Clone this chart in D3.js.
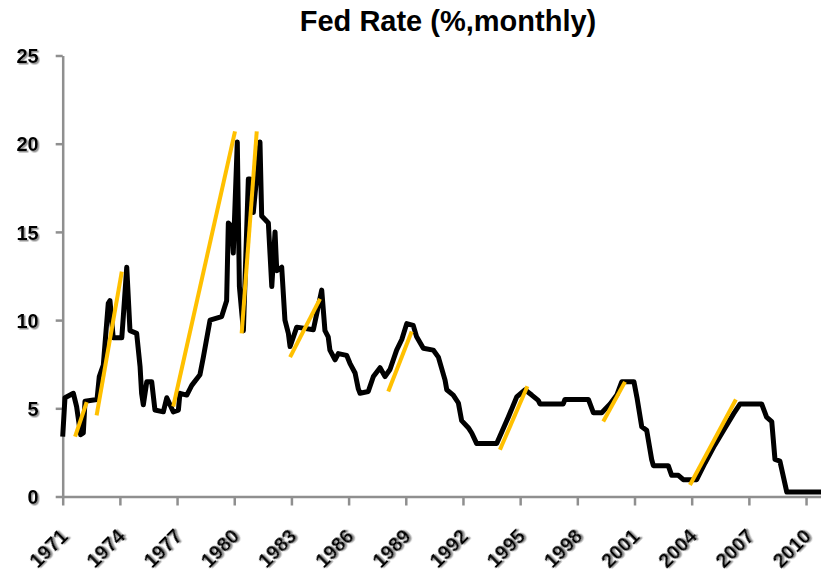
<!DOCTYPE html>
<html>
<head>
<meta charset="utf-8">
<script src="https://cdn.jsdelivr.net/npm/d3@7"></script>
<style>
  body { margin: 0; background: #fff; }
  svg { display: block; font-family: "Liberation Sans", Arial, sans-serif; }
  .axis path, .axis line { stroke: #8f8f8f; stroke-width: 2.5; }
  .axis text { font-size: 20px; font-weight: bold; fill: #000; }
</style>
</head>
<body>
<script>
// fed rate (decimal year, percent)
var years = [1971.00, 1971.12, 1971.56, 1971.73, 1971.94, 1972.08, 1972.17, 1972.80, 1972.92, 1973.13,
             1973.39, 1973.48, 1973.65, 1974.10, 1974.18, 1974.36, 1974.53, 1974.88, 1975.06, 1975.14,
             1975.23, 1975.41, 1975.67, 1975.84, 1976.28, 1976.46, 1976.63, 1976.80, 1977.07, 1977.15,
             1977.51, 1977.77, 1978.20, 1978.38, 1978.73, 1979.34, 1979.60, 1979.69, 1979.87, 1979.95,
             1980.16, 1980.27, 1980.48, 1980.74, 1980.83, 1981.00, 1981.35, 1981.44, 1981.79, 1981.97,
             1982.14, 1982.23, 1982.49, 1982.66, 1982.84, 1982.93, 1983.28, 1984.15, 1984.59, 1984.76,
             1984.93, 1985.02, 1985.29, 1985.46, 1985.90, 1986.07, 1986.34, 1986.51, 1986.60, 1987.03,
             1987.30, 1987.65, 1987.91, 1988.17, 1988.52, 1988.79, 1989.05, 1989.39, 1989.57, 1989.92,
             1990.44, 1990.71, 1991.06, 1991.15, 1991.49, 1991.76, 1991.93, 1992.28, 1992.46, 1992.72,
             1993.77, 1994.38, 1994.82, 1995.25, 1995.61, 1995.95, 1996.04, 1997.26, 1997.35, 1998.58,
             1998.84, 1999.28, 1999.72, 2000.07, 2000.33, 2000.97, 2001.13, 2001.38, 2001.64, 2001.90,
             2001.99, 2002.77, 2002.95, 2003.30, 2003.56, 2004.26, 2004.70, 2005.20, 2005.70, 2006.20,
             2006.54, 2007.67, 2007.93, 2008.20, 2008.37, 2008.63, 2008.99, 2010.80];
var rates = [3.4, 5.6, 5.85, 5.1, 3.5, 3.6, 5.4, 5.5, 6.8, 7.45,
             10.95, 11.1, 9.0, 9.0, 10.2, 13.0, 9.4, 9.25, 7.35, 5.85,
             5.2, 6.5, 6.5, 4.9, 4.8, 5.6, 5.2, 4.8, 4.9, 5.85,
             5.75, 6.3, 6.9, 7.9, 10.0, 10.2, 11.1, 15.5, 15.3, 13.8,
             20.1, 11.9, 9.4, 18.0, 18.0, 16.1, 20.1, 15.9, 15.5, 11.9,
             15.0, 12.8, 13.0, 10.0, 9.25, 8.5, 9.6, 9.45, 11.7, 9.4,
             9.05, 8.3, 7.75, 8.1, 8.0, 7.55, 7.0, 6.1, 5.85, 5.95,
             6.8, 7.3, 6.8, 7.2, 8.3, 8.9, 9.8, 9.7, 9.05, 8.4,
             8.3, 7.9, 6.6, 6.05, 5.75, 5.3, 4.3, 3.9, 3.6, 3.0,
             3.0, 4.5, 5.65, 6.05, 5.75, 5.45, 5.25, 5.25, 5.5, 5.5,
             4.75, 4.75, 5.25, 5.75, 6.5, 6.5, 5.6, 3.95, 3.75, 2.1,
             1.75, 1.75, 1.2, 1.2, 0.95, 0.95, 1.9, 2.9, 3.8, 4.7,
             5.25, 5.25, 4.5, 4.25, 2.1, 2.0, 0.25, 0.25];

// orange trend segments: start/end year and start/end rate
var trendYears = [[1971.65, 1972.26], [1972.78, 1974.10], [1976.80, 1980.04], [1980.39, 1981.18],
                  [1982.93, 1984.50], [1988.08, 1989.31], [1993.94, 1995.38], [1999.36, 2000.50],
                  [2003.91, 2006.32]];
var trendRates = [[3.4, 5.35], [4.6, 12.75], [5.1, 20.7], [9.25, 20.7],
                  [7.9, 11.2], [5.95, 9.35], [2.65, 6.25], [4.25, 6.5],
                  [0.65, 5.5]];

var yTicks = [0, 5, 10, 15, 20, 25],
    xTicks = [1971, 1974, 1977, 1980, 1983, 1986, 1989, 1992, 1995, 1998, 2001, 2004, 2007, 2010];

var W = 821, H = 574;

var x = d3.scaleLinear().domain([1971, 2010.8]).range([62.7, 821.3]),
    y = d3.scaleLinear().domain([0, 25]).range([496.5, 55.5]);

var svg = d3.select("body").append("svg")
    .attr("width", W)
    .attr("height", H);

svg.append("rect").attr("width", W).attr("height", H).attr("fill", "#fff");

// soft grey shadow under tick labels
var f = svg.append("defs").append("filter").attr("id", "shadow")
    .attr("x", "-20%").attr("y", "-20%").attr("width", "140%").attr("height", "140%");
f.append("feDropShadow").attr("dx", 1.5).attr("dy", 1.5).attr("stdDeviation", 0.6)
    .attr("flood-color", "#777").attr("flood-opacity", 0.8);

// title
svg.append("text")
    .attr("x", 448).attr("y", 31)
    .attr("text-anchor", "middle")
    .style("font-size", "29px").style("font-weight", "bold")
    .text("Fed Rate (%,monthly)");

// y axis
var gy = svg.append("g").attr("class", "axis")
    .attr("transform", "translate(" + x(1971) + ",0)")
    .call(d3.axisLeft(y).tickValues(yTicks).tickSize(7).tickSizeOuter(0).tickPadding(17));
gy.selectAll("text").attr("filter", "url(#shadow)").attr("dy", "0.36em");

// x axis
var gx = svg.append("g").attr("class", "axis")
    .attr("transform", "translate(0," + y(0) + ")")
    .call(d3.axisBottom(x).tickValues(xTicks).tickFormat(d3.format("d")).tickSize(9).tickSizeOuter(0));
gx.selectAll("text")
    .attr("filter", "url(#shadow)")
    .attr("text-anchor", "end")
    .attr("y", 0).attr("dy", 0)
    .attr("transform", "translate(6,41) rotate(-45)");

// rate line
var line = d3.line()
    .x(function(d, i) { return x(years[i]); })
    .y(function(d) { return y(d); });

svg.append("path")
    .datum(rates)
    .attr("d", line)
    .attr("fill", "none")
    .attr("stroke", "#000")
    .attr("stroke-width", 5)
    .attr("stroke-linejoin", "round");

// trend segments on top
svg.append("g").selectAll("line")
    .data(trendYears)
  .enter().append("line")
    .attr("x1", function(d) { return x(d[0]); })
    .attr("x2", function(d) { return x(d[1]); })
    .attr("y1", function(d, i) { return y(trendRates[i][0]); })
    .attr("y2", function(d, i) { return y(trendRates[i][1]); })
    .attr("stroke", "#ffc000")
    .attr("stroke-width", 4);
</script>
</body>
</html>
